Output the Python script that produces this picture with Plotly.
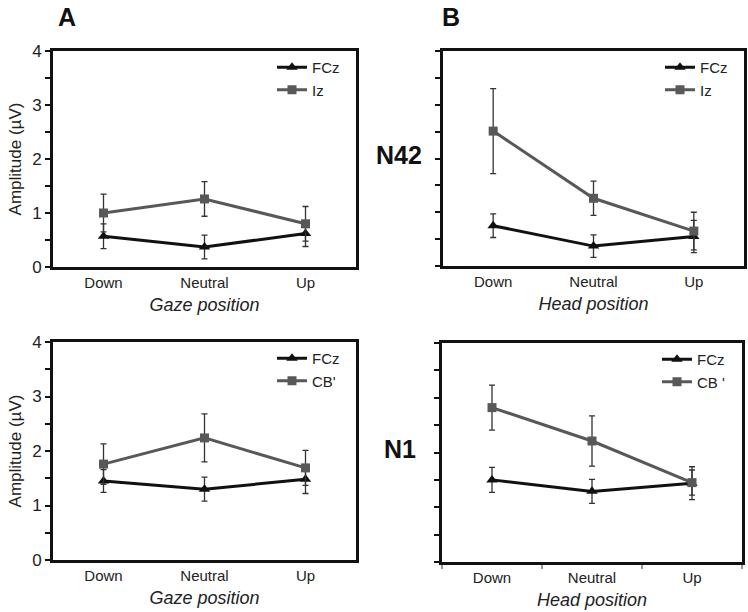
import plotly.graph_objects as go

positions = ["Down", "Neutral", "Up"]
xpos = [0, 1, 2]

# N42 - gaze (A top)
n42_gaze_fcz = [0.57, 0.37, 0.62]
n42_gaze_fcz_err = [0.23, 0.22, 0.24]
n42_gaze_iz = [1.00, 1.26, 0.80]
n42_gaze_iz_err = [0.35, 0.32, 0.32]

# N42 - head (B top)
n42_head_fcz = [0.75, 0.37, 0.55]
n42_head_fcz_err = [0.22, 0.21, 0.30]
n42_head_iz = [2.51, 1.26, 0.65]
n42_head_iz_err = [0.79, 0.32, 0.35]

# N1 - gaze (A bottom)
n1_gaze_fcz = [1.45, 1.30, 1.48]
n1_gaze_fcz_err = [0.21, 0.22, 0.26]
n1_gaze_cb = [1.76, 2.24, 1.69]
n1_gaze_cb_err = [0.37, 0.44, 0.32]

# N1 - head (B bottom)
n1_head_fcz = [1.50, 1.29, 1.44]
n1_head_fcz_err = [0.23, 0.22, 0.30]
n1_head_cb = [2.82, 2.21, 1.45]
n1_head_cb_err = [0.41, 0.46, 0.23]

W, H = 748, 612
BLACK = "#111111"
GRAY = "#585858"
TXT = "#222222"
FONT = "Liberation Sans, Arial, sans-serif"

panels = [
    ("x", "y", (53, 356), (51, 267), n42_gaze_fcz, n42_gaze_fcz_err, n42_gaze_iz, n42_gaze_iz_err, "Iz", "legend", "Gaze position", True),
    ("x2", "y2", (443, 744), (51, 266), n42_head_fcz, n42_head_fcz_err, n42_head_iz, n42_head_iz_err, "Iz", "legend2", "Head position", False),
    ("x3", "y3", (53, 356), (342, 560), n1_gaze_fcz, n1_gaze_fcz_err, n1_gaze_cb, n1_gaze_cb_err, "CB'", "legend3", "Gaze position", True),
    ("x4", "y4", (442, 742), (343, 562), n1_head_fcz, n1_head_fcz_err, n1_head_cb, n1_head_cb_err, "CB '", "legend4", "Head position", False),
]

fig = go.Figure()
layout = dict(
    width=W, height=H,
    margin=dict(l=0, r=0, t=0, b=0, autoexpand=False),
    paper_bgcolor="white", plot_bgcolor="white",
    font=dict(family=FONT, color=TXT),
    showlegend=True,
)

for i, (xa, ya, xd, yd, fcz, fcz_e, oth, oth_e, oname, leg, xtitle, showy) in enumerate(panels):
    fig.add_trace(go.Scatter(
        x=xpos, y=fcz, mode="lines+markers", name="FCz",
        xaxis=xa, yaxis=ya, legend=leg,
        line=dict(color=BLACK, width=3),
        marker=dict(symbol="triangle-up", size=10, color=BLACK),
        error_y=dict(type="data", array=fcz_e, color="#333333", thickness=1.3, width=3),
    ))
    fig.add_trace(go.Scatter(
        x=xpos, y=oth, mode="lines+markers", name=oname,
        xaxis=xa, yaxis=ya, legend=leg,
        line=dict(color=GRAY, width=3),
        marker=dict(symbol="square", size=9, color=GRAY),
        error_y=dict(type="data", array=oth_e, color="#333333", thickness=1.3, width=3),
    ))
    xkey = "xaxis" + xa[1:]
    ykey = "yaxis" + ya[1:]
    xdom = [xd[0] / W, xd[1] / W]
    ydom = [1 - yd[1] / H, 1 - yd[0] / H]
    xaxis = dict(
        domain=xdom, range=[-0.5, 2.5], anchor=ya, automargin=False,
        tickvals=xpos, ticktext=positions, ticks="",
        showline=True, linecolor=BLACK, linewidth=3, mirror=True,
        showgrid=False, zeroline=False,
        tickfont=dict(size=15, color=TXT),
        title=dict(text="<i>" + xtitle + "</i>", font=dict(size=18, color=TXT), standoff=9),
    )
    if i == 3:
        xaxis["minor"] = dict(tick0=-0.5, dtick=1, ticks="outside", ticklen=4, tickcolor="#999999", tickwidth=1.5)
    yaxis = dict(
        domain=ydom, range=[0, 4], anchor=xa, automargin=False,
        tickvals=[0, 1, 2, 3, 4], ticks="outside", ticklen=5, tickwidth=2, tickcolor=BLACK,
        minor=dict(tickvals=[0.5, 1.5, 2.5, 3.5], ticks="outside", ticklen=5, tickwidth=2, tickcolor=BLACK),
        showticklabels=showy,
        showline=True, linecolor=BLACK, linewidth=3, mirror=True,
        showgrid=False, zeroline=False,
        tickfont=dict(size=17, color=TXT),
    )
    if showy:
        yaxis["title"] = dict(text="Amplitude (\u00b5V)", font=dict(size=17, color=TXT), standoff=7)
    layout[xkey] = xaxis
    layout[ykey] = yaxis
    layout[leg] = dict(
        x=(xd[1] - 11) / W, y=1 - yd[0] / H, xanchor="right", yanchor="top",
        bgcolor="rgba(0,0,0,0)", borderwidth=0,
        font=dict(size=15, color=TXT), itemwidth=30, tracegroupgap=0,
    )

ann_font = dict(size=25, color="#111111")
layout["annotations"] = [
    dict(text="<b>A</b>", x=67 / W, y=1 - 17 / H, xref="paper", yref="paper", xanchor="center", yanchor="middle", showarrow=False, font=ann_font),
    dict(text="<b>B</b>", x=451 / W, y=1 - 17 / H, xref="paper", yref="paper", xanchor="center", yanchor="middle", showarrow=False, font=ann_font),
    dict(text="<b>N42</b>", x=399 / W, y=1 - 155 / H, xref="paper", yref="paper", xanchor="center", yanchor="middle", showarrow=False, font=ann_font),
    dict(text="<b>N1</b>", x=400 / W, y=1 - 449 / H, xref="paper", yref="paper", xanchor="center", yanchor="middle", showarrow=False, font=ann_font),
]

fig.update_layout(**layout)
fig.write_html("out.html", config={"displayModeBar": False},
               post_script="document.body.style.margin='0';")
